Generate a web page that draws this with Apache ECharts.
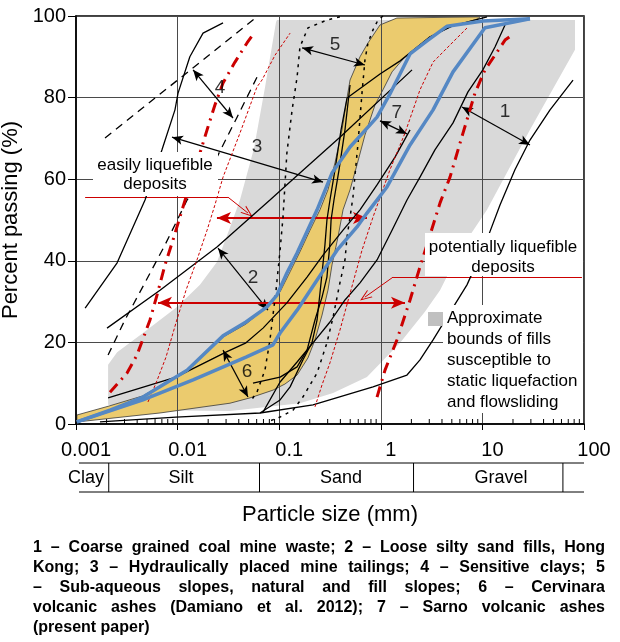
<!DOCTYPE html>
<html><head><meta charset="utf-8">
<script src="https://cdn.jsdelivr.net/npm/echarts@6/dist/echarts.min.js"></script>
<style>html,body{margin:0;padding:0;background:#fff}#c{width:620px;height:642px}</style>
</head><body><div id="c"></div>
<script>
// ---------- tick labels / categories ----------
const xTickLabels = ['0.001','0.01','0.1','1','10','100'];
const minorMantissas = [2,3,4,5,6,7,8,9];
const minorDecades = [0.001,0.01,0.1,1,10];
const soilNames = ['Clay','Silt','Sand','Gravel'];
const soilBounds = [0.0021,0.064,2.1,62];

// ---------- areas ----------
const fillBounds = [[0.0951,99],[81.5,99],[81.5,91.7],[29.4,72.1],[11.1,52.5],[6.02,42.6],[3.83,32.8],[2.72,27.5],[1.55,19.9],[0.731,11.5],[0.339,7.6],[0.160,5.1],[0.0328,3.2],[0.00535,3.4],[0.00207,4.7],[0.00207,14.5],[0.00254,17.6],[0.00456,22.3],[0.00986,28.7],[0.0166,34.1],[0.0244,39.7],[0.0313,46.8],[0.0411,54.9],[0.0565,67.6],[0.0724,82.4],[0.0931,98.5]];
const cervinaraUpper = [[0.00102,2.2],[0.00211,4.4],[0.00456,6.9],[0.0121,13.2],[0.0280,21.3],[0.0471,24.5],[0.0759,28.7],[0.102,32.4],[0.128,37.3],[0.160,42.2],[0.201,47.5],[0.252,52.5],[0.302,57.4],[0.354,64.0],[0.415,72.1],[0.465,79.9],[0.498,84.3],[0.624,90.0],[0.748,93.4],[0.982,97.8],[1.44,99.5],[9.47,99.8]];
const cervinaraLower = [[9.06,99.3],[4.80,97.3],[3.05,94.9],[1.73,90.0],[1.29,86.3],[1.05,81.9],[0.877,78.2],[0.698,70.8],[0.583,63.5],[0.498,57.4],[0.425,52.5],[0.379,45.8],[0.331,39.0],[0.302,32.8],[0.264,26.7],[0.225,20.6],[0.192,16.2],[0.150,12.0],[0.114,9.8],[0.0869,8.3],[0.0516,6.4],[0.0328,5.1],[0.00671,2.7],[0.00102,0.5]];

// ---------- curves ----------
const sarnoUpper = [[0.00102,0.5],[0.00216,3.4],[0.00456,6.6],[0.0124,13.2],[0.0280,21.6],[0.0471,25.0],[0.0759,28.7],[0.0951,31.6],[0.119,37.0],[0.150,41.9],[0.236,52.5],[0.331,61.5],[0.498,67.9],[0.918,75.2],[1.23,80.9],[1.94,90.7],[2.85,93.9],[4.49,97.5],[10.1,98.8],[29.4,99.3]];
const sarnoLower = [[0.00102,0.5],[0.00456,5.9],[0.0142,10.8],[0.0471,16.4],[0.0869,19.4],[0.102,22.3],[0.150,27.9],[0.236,35.3],[0.371,42.6],[0.583,48.3],[0.731,51.7],[1.15,58.1],[1.94,68.4],[3.27,77.0],[5.14,86.3],[10.6,97.1],[29.4,99.3]];
const tailingsLeft = [[0.00123,28.4],[0.00254,39.5],[0.00478,54.9],[0.00702,67.2],[0.00942,77.0],[0.0101,81.1],[0.0132,90.0],[0.0178,95.8],[0.0280,98.3]];
const tailingsRight = [[0.00202,23.5],[0.00671,32.8],[0.0244,43.4],[0.0811,54.9],[0.160,61.5],[0.396,70.3],[2.03,86.8]];
const hongKongLower = [[0.00207,6.4],[0.00964,11.5],[0.0299,17.6],[0.0471,19.9],[0.0693,23.5],[0.119,29.7],[0.188,36.0],[0.270,41.4],[0.425,47.5],[0.624,52.5],[0.918,58.6],[1.38,65.4],[1.94,72.1]];
const bandTopLine = [[0.465,79.9],[0.982,85.8],[1.55,89.0],[3.05,94.9],[5.02,97.5],[11.1,99.8]];
const steepA = [[0.465,79.9],[0.406,72.1],[0.354,62.3],[0.316,54.9],[0.295,50.0],[0.282,43.9],[0.252,32.1],[0.236,25.5],[0.210,19.9],[0.171,15.7],[0.128,9.1],[0.102,5.9],[0.0647,2.7]];
const steepB = [[0.498,83.1],[0.444,72.1],[0.388,62.3],[0.346,54.9],[0.324,50.0],[0.316,44.4],[0.295,36.0],[0.264,31.1],[0.225,25.5],[0.188,18.1],[0.150,14.0],[0.102,11.5],[0.0552,10.0]];
const coalLeft = [[0.0693,2.9],[0.102,10.3],[0.150,15.2],[0.215,19.9],[0.316,25.0],[0.444,30.4],[0.624,34.6],[0.918,40.2],[1.29,47.5],[1.81,54.9],[2.43,60.5],[3.41,67.2],[5.14,73.8],[7.21,81.4],[10.1,86.8],[13.3,92.4],[16.7,97.8]];
const coalRight = [[0.00172,0.5],[0.00964,1.7],[0.0647,2.7],[0.215,4.7],[0.838,9.1],[1.81,12.0],[2.43,15.7],[3.27,20.6],[4.49,26.2],[7.05,34.1],[10.6,43.9],[14.9,53.7],[20.9,62.3],[29.4,69.6],[46.3,77.0],[78.0,84.3]];
const redThinLeft = [[0.00511,5.4],[0.00613,10.0],[0.00769,16.4],[0.00964,24.8],[0.0121,32.8],[0.0155,40.2],[0.0195,47.5],[0.0233,53.7],[0.0280,60.5],[0.0411,71.3],[0.0604,82.6],[0.0677,84.3],[0.0910,90.4],[0.128,95.8]];
const redThinRight = [[0.225,4.2],[0.264,9.6],[0.316,15.0],[0.396,23.0],[0.532,34.6],[0.653,42.6],[0.838,50.7],[1.23,62.3],[1.73,71.3],[2.43,81.9],[3.27,88.7],[4.80,92.9],[7.21,97.3]];
const redDashDotLeft = [[0.00216,7.8],[0.00318,12.5],[0.00398,16.9],[0.00535,25.5],[0.00627,31.6],[0.00752,39.0],[0.00901,45.1],[0.0113,53.2],[0.0132,58.6],[0.0166,66.4],[0.0195,72.1],[0.0233,78.2],[0.0280,83.6],[0.0367,88.7],[0.0482,93.4],[0.0578,96.1]];
const redDashDotRight = [[0.918,6.6],[1.10,13.2],[1.44,20.6],[1.94,30.4],[2.43,38.5],[3.05,46.3],[3.83,54.2],[4.80,60.5],[6.44,71.3],[8.45,81.1],[10.6,86.8],[13.3,90.4],[16.7,94.1],[19.5,95.3]];
const clayDashedA = [[0.00193,70.1],[0.0604,99.8]];
const clayDashedB = [[0.0604,85.0],[0.0385,75.2],[0.0244,65.4],[0.0166,59.3],[0.0124,54.9],[0.00752,43.9],[0.00436,32.8],[0.00303,25.5],[0.00207,16.9]];
const slopesDottedA = [[0.396,99.8],[0.295,99.0],[0.192,97.1],[0.160,92.4],[0.150,85.0],[0.134,77.0],[0.119,66.4],[0.109,50.7],[0.102,42.6],[0.0931,32.8],[0.0811,20.6],[0.0724,13.2],[0.0604,7.8],[0.0516,5.4]];
const slopesDottedB = [[1.05,100],[0.938,99.0],[0.838,96.6],[0.748,93.4],[0.698,89.2],[0.653,81.1],[0.597,68.9],[0.532,55.6],[0.498,50.7],[0.465,45.8],[0.444,40.2],[0.396,34.6],[0.339,26.2],[0.295,19.9],[0.236,12.5],[0.171,6.6],[0.137,3.4],[0.102,1.7],[0.0759,0.5]];

// ---------- arrows & labels ----------
const groupLabels = ['4','3','5','7','1','2','6'];
const groupArrows = [
  [[0.0142,86.8],[0.0351,75.0]],
  [[0.00881,70.3],[0.270,59.3]],
  [[0.168,92.2],[0.698,88.0]],
  [[0.982,74.3],[1.81,71.1]],
  [[6.30,77.7],[29.4,68.4]],
  [[0.0250,43.1],[0.0776,27.9]],
  [[0.0280,18.1],[0.0493,6.6]]
];
const groupLabelPos = [[0.0261,82.4],[0.0604,67.9],[0.354,92.9],[1.44,76.2],[16.7,76.5],[0.0552,35.8],[0.0482,12.7]];
const rangeArrows = [
  [[0.0244,50.5],[0.731,50.5]],
  [[0.00641,29.7],[1.73,29.7]]
];
const pointerEasy = [[0.00123,55.6],[0.0313,55.6],[0.0493,51.7]];
const pointerPotential = [[95.5,36.0],[1.32,36.0],[0.698,31.1]];

const FONT = '"Liberation Sans", Arial, Helvetica, sans-serif';
const BLACK = '#000';
const BLUE = '#5588c4';
const RED = '#cc0000';

const minorTickValues = [];
minorDecades.forEach(d => minorMantissas.forEach(m => minorTickValues.push(m * d)));

function poly(pts, fill, stroke, lw, z) {
  return {
    type: 'custom', z: z, silent: true, animation: false,
    data: [[1, 50]],
    renderItem: (params, api) => ({
      type: 'polygon',
      shape: { points: pts.map(p => api.coord(p)) },
      style: { fill: fill, stroke: stroke || null, lineWidth: lw || 0 }
    })
  };
}
function ln(pts, color, width, type, z) {
  return {
    type: 'line', data: pts, symbol: 'none', showSymbol: false, silent: true,
    animation: false, z: z || 5,
    lineStyle: { color: color, width: width, type: type || 'solid', cap: 'butt' }
  };
}
const chevron = 'path://M0,0 L6,12 L4.6,12 L0,2.8 L-4.6,12 L-6,12 Z';

const chart = echarts.init(document.getElementById('c'), null, { renderer: 'canvas' });
const option = {
  animation: false,
  textStyle: { fontFamily: FONT },
  grid: { left: 76, right: 36, top: 16, bottom: 218, show: true, borderColor: '#000', borderWidth: 1.5, backgroundColor: 'transparent', outerBoundsMode: 'none', containLabel: false },
  xAxis: {
    type: 'log', logBase: 10, min: 0.001, max: 100, z: 3,
    name: 'Particle size (mm)', nameLocation: 'middle', nameGap: 80,
    nameTextStyle: { fontSize: 22, color: '#000', fontFamily: FONT },
    axisLine: { show: true, lineStyle: { color: '#000', width: 1.5 } },
    axisTick: { show: true, inside: false, length: 6, lineStyle: { color: '#000', width: 1 } },
    minorTick: { show: false },
    splitLine: { show: true, lineStyle: { color: '#4a4a4a', width: 1 } },
    axisLabel: {
      fontSize: 20, color: '#000', fontFamily: FONT, margin: 16, align: 'center', padding: [0, 0, 0, 20],
      formatter: v => xTickLabels[Math.round(Math.log10(v)) + 3]
    }
  },
  yAxis: {
    type: 'value', min: 0, max: 100, interval: 20, z: 3,
    name: 'Percent passing (%)', nameLocation: 'middle', nameGap: 44,
    nameTextStyle: { fontSize: 22, color: '#000', fontFamily: FONT },
    axisLine: { show: true, lineStyle: { color: '#000', width: 1.5 } },
    axisTick: { show: true, inside: false, length: 8, lineStyle: { color: '#000', width: 1 } },
    splitLine: { show: true, lineStyle: { color: '#4a4a4a', width: 1 } },
    axisLabel: { fontSize: 20, color: '#000', fontFamily: FONT, margin: 10 }
  },
  series: [
    poly(fillBounds, '#d9d9d9', null, 0, 1),
    poly(cervinaraUpper.concat(cervinaraLower), '#ebcb6e', '#3a3a3a', 0.8, 1),
    ln(tailingsLeft, BLACK, 1.3),
    ln(tailingsRight, BLACK, 1.3),
    ln(hongKongLower, BLACK, 1.3),
    ln(bandTopLine, BLACK, 1.3),
    ln(steepA, BLACK, 1.3),
    ln(steepB, BLACK, 1.3),
    ln(coalLeft, BLACK, 1.3),
    ln(coalRight, BLACK, 1.3),
    ln(clayDashedA, BLACK, 1.3, [8, 6]),
    ln(clayDashedB, BLACK, 1.3, [8, 6]),
    ln(slopesDottedA, BLACK, 1.5, [3, 5]),
    ln(slopesDottedB, BLACK, 1.5, [3, 5]),
    ln(redThinLeft, RED, 1, [3, 2]),
    ln(redThinRight, RED, 1, [3, 2]),
    ln(redDashDotLeft, RED, 3, [11, 6, 2, 6]),
    ln(redDashDotRight, RED, 3, [11, 6, 2, 6]),
    ln(sarnoUpper, BLUE, 3.5, 'solid', 6),
    ln(sarnoLower, BLUE, 3.5, 'solid', 6),
    {
      type: 'line', data: [], z: 7, silent: true, animation: false,
      markLine: {
        silent: true, animation: false, symbol: ['arrow', 'arrow'], symbolSize: [7, 11],
        label: { show: false }, emphasis: { disabled: true },
        lineStyle: { color: '#000', width: 1.2, type: 'solid' },
        data: groupArrows.map(a => [{ coord: a[0] }, { coord: a[1] }])
      }
    },
    {
      type: 'line', data: [], z: 7, silent: true, animation: false,
      markLine: {
        silent: true, animation: false, symbol: ['arrow', 'arrow'], symbolSize: [9, 14],
        label: { show: false }, emphasis: { disabled: true },
        lineStyle: { color: RED, width: 2, type: 'solid' },
        data: rangeArrows.map(a => [{ coord: a[0] }, { coord: a[1] }])
      }
    },
    {
      type: 'line', data: [], z: 60, silent: true, animation: false,
      markLine: {
        silent: true, animation: false, symbol: ['none', 'none'], symbolSize: [9, 12],
        label: { show: false }, emphasis: { disabled: true },
        lineStyle: { color: RED, width: 1, type: 'solid' },
        data: [pointerEasy, pointerPotential].flatMap(p => [
          [{ coord: p[0] }, { coord: p[1] }],
          [{ coord: p[1] }, { coord: p[2], symbol: chevron }]
        ])
      }
    },
    {
      type: 'scatter', z: 8, silent: true, animation: false, symbolSize: 1,
      itemStyle: { color: 'rgba(0,0,0,0)' },
      data: groupLabelPos.map((p, i) => [p[0], p[1], groupLabels[i]]),
      label: { show: true, position: 'inside', formatter: p => p.value[2], fontSize: 19, color: '#000', fontFamily: FONT }
    },
    {
      type: 'custom', z: 4, silent: true, animation: false,
      data: minorTickValues.map(v => [v, 0]),
      renderItem: (params, api) => {
        const p = api.coord([api.value(0), 0]);
        return { type: 'line', shape: { x1: p[0], y1: p[1], x2: p[0], y2: p[1] - 5 }, style: { stroke: '#000', lineWidth: 1 } };
      }
    }
  ]
};
chart.setOption(option);

// ---------- annotation graphics (layout) ----------
function txt(x, y, s, size, align, weight, z) {
  return { type: 'text', x: x, y: y, z: z || 70, silent: true,
    style: { text: s, fontSize: size, fontFamily: FONT, fontWeight: weight || 'normal', fill: '#000',
      align: align || 'center', textAlign: align || 'center', verticalAlign: 'middle', textVerticalAlign: 'middle' } };
}
function rect(x, y, w, h, fill, z) {
  return { type: 'rect', z: z || 50, silent: true, shape: { x: x, y: y, width: w, height: h }, style: { fill: fill } };
}
function hline(x1, y1, x2, y2) {
  return { type: 'line', z: 70, silent: true, shape: { x1: x1, y1: y1, x2: x2, y2: y2 }, style: { stroke: '#000', lineWidth: 1 } };
}
const els = [];
// boxes behind annotation texts
els.push(rect(93, 152, 125, 44, '#fff'));
els.push(rect(425, 233, 158, 43, '#fff'));
els.push(rect(443, 305, 140, 108, '#fff'));
els.push(txt(155, 165, 'easily liquefible', 17));
els.push(txt(155, 184, 'deposits', 17));
els.push(txt(503, 247, 'potentially liquefible', 17));
els.push(txt(503, 267, 'deposits', 17));
els.push(rect(428, 312, 15, 14, '#c0c0c0', 70));
const legendLines = ['Approximate', 'bounds of fills', 'susceptible to', 'static liquefaction', 'and flowsliding'];
legendLines.forEach((s, i) => els.push(txt(447, 318 + i * 21, s, 17, 'left')));

// soil classification strip
const tableTop = 463, tableBottom = 492;
els.push(hline(79, tableTop, 584, tableTop));
els.push(hline(79, tableBottom, 584, tableBottom));
soilBounds.forEach(b => {
  const px = chart.convertToPixel({ xAxisIndex: 0 }, b);
  els.push(hline(px, tableTop, px, tableBottom));
});
const soilCenters = [86, 181, 341, 501];
soilNames.forEach((s, i) => els.push(txt(soilCenters[i], 478, s, 18)));

// caption (justified)
const captionLines = [
  '1 – Coarse grained coal mine waste; 2 – Loose silty sand fills, Hong',
  'Kong; 3 – Hydraulically placed mine tailings; 4 – Sensitive clays; 5',
  '– Sub-aqueous slopes, natural and fill slopes; 6 – Cervinara',
  'volcanic ashes (Damiano et al. 2012); 7 – Sarno volcanic ashes',
  '(present paper)'
];
const CAP_L = 33, CAP_R = 605, CAP_Y = 548, CAP_LH = 20, CAP_SIZE = 16;
const ctx = document.createElement('canvas').getContext('2d');
ctx.font = 'bold ' + CAP_SIZE + 'px "Liberation Sans"';
captionLines.forEach((line, i) => {
  const words = line.split(' ');
  const widths = words.map(w => ctx.measureText(w).width);
  const total = widths.reduce((a, b) => a + b, 0);
  const last = i === captionLines.length - 1;
  const gap = last ? ctx.measureText(' ').width : (CAP_R - CAP_L - total) / (words.length - 1);
  let x = CAP_L;
  words.forEach((w, j) => {
    els.push(txt(x, CAP_Y + i * CAP_LH, w, CAP_SIZE, 'left', 'bold'));
    x += widths[j] + gap;
  });
});
chart.setOption({ graphic: { elements: els } });
</script>
</body></html>
